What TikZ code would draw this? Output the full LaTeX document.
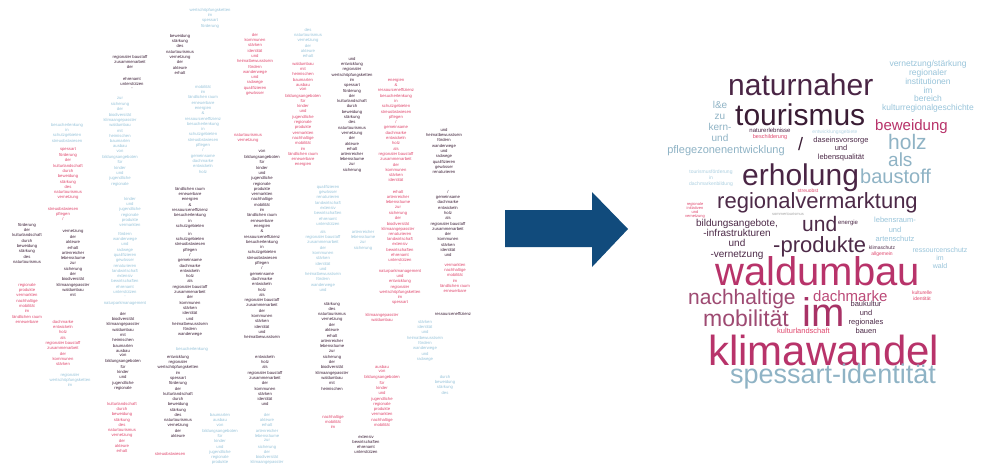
\documentclass[tikz,border=0pt]{standalone}
\usepackage{fontspec}
\setmainfont{Liberation Sans}
\usetikzlibrary{calc}

\definecolor{cdark}{HTML}{3D2038}
\definecolor{cpink}{HTML}{E0486E}
\definecolor{cblue}{HTML}{98C4DA}
\definecolor{wplum}{HTML}{4A2545}
\definecolor{wplumdk}{HTML}{3A1C34}
\definecolor{wplummid}{HTML}{4D2A48}
\definecolor{wcrim}{HTML}{B8336A}
\definecolor{wcrimdk}{HTML}{A83266}
\definecolor{wrose}{HTML}{9E4A72}
\definecolor{wrosel}{HTML}{BC4A78}
\definecolor{wsky}{HTML}{8FB3C5}
\definecolor{arrowblue}{HTML}{114B7C}

% size helper: font size and line distance in pt
\newcommand\wsz[2]{\fontsize{#1}{#2}\selectfont}

% vocabulary for the small left-hand cloud
\newcommand\poolword[1]{\ifcase#1 naturparkmanagement\or und\or entwicklung\or regionaler\or wertschöpfungsketten\or im\or spessart\or förderung\or der\or kulturlandschaft\or durch\or beweidung\or stärkung\or des\or naturtourismus\or vernetzung\or der\or akteure\or erhalt\or artenreicher\or lebensräume\or zur\or sicherung\or der\or biodiversität\or klimaangepasster\or waldumbau\or mit\or heimischen\or baumarten\or ausbau\or von\or bildungsangeboten\or für\or kinder\or und\or jugendliche\or regionale\or produkte\or vermarkten\or nachhaltige\or mobilität\or im\or ländlichen raum\or erneuerbare\or energien\or \&\or ressourceneffizienz\or besucherlenkung\or in\or schutzgebieten\or streuobstwiesen\or pflegen\or /\or gemeinsame\or dachmarke\or entwickeln\or holz\or als\or regionaler baustoff\or zusammenarbeit\or der\or kommunen\or stärken\or identität\or und\or heimatbewusstsein\or fördern\or wanderwege\or und\or radwege\or qualifizieren\or gewässer\or renaturieren\or landwirtschaft\or extensiv\or bewirtschaften\or ehrenamt\or unterstützen\or -\fi}

\tikzset{
  wtiny/.style={inner sep=0pt, anchor=north, font=\wsz{4.2}{5}},
  rw/.style={anchor=base west, inner sep=0pt},
  rs/.style={anchor=north, inner sep=0pt, align=center},
}

% one stacked column of tiny words: name, x, top y, colour, number of lines, start in vocabulary
\newcommand\wcol[6]{%
  \foreach \i in {1,...,#5}{%
    \pgfmathtruncatemacro\k{mod(#6+\i,80)}%
    \node[wtiny,text=#4] (#1-\i) at (#2,{#3+(\i-1)*5.3}) {\poolword{\k}};
  }}

\begin{document}
\begin{tikzpicture}[x=1pt,y=-1pt]
\fill[white] (0,0) rectangle (982,467);
\useasboundingbox (0,0) rectangle (982,467);

% ---------- left: full cloud of all statements ----------
\wcol{a1}{210}{8}{cblue}{4}{3}
\wcol{a2}{180}{34}{cdark}{8}{10}
\wcol{a3}{130}{55}{cdark}{3}{58}
\wcol{a4}{132}{77}{cdark}{3}{76}
\wcol{a5}{120}{97}{cblue}{17}{20}
\wcol{a6}{203}{85}{cblue}{17}{40}
\wcol{a7}{67}{123}{cblue}{4}{47}
\wcol{a8}{68}{148}{cpink}{10}{5}
\wcol{a9}{63}{207}{cpink}{3}{50}
\wcol{a10}{255}{33}{cpink}{12}{60}
\wcol{a11}{308}{28}{cblue}{6}{12}
\wcol{a12}{303}{62}{cpink}{20}{25}
\wcol{a13}{352}{57}{cdark}{22}{0}
\wcol{a14}{396}{78}{cpink}{20}{44}
\wcol{a15}{444}{128}{cdark}{9}{64}
\wcol{a16}{248}{133}{cpink}{2}{13}
\wcol{a17}{262}{150}{cdark}{36}{30}
\wcol{a18}{328}{185}{cblue}{8}{70}
\wcol{a19}{398}{190}{cpink}{8}{17}
\wcol{a20}{448}{190}{cdark}{13}{52}
\wcol{a21}{190}{187}{cdark}{8}{42}
\wcol{a22}{27}{223}{cdark}{8}{6}
\wcol{a23}{130}{197}{cblue}{6}{33}
\wcol{a24}{73}{230}{cdark}{13}{14}
\wcol{a25}{27}{283}{cpink}{8}{36}
\wcol{a26}{63}{320}{cpink}{9}{54}
\wcol{a27}{70}{373}{cblue}{3}{2}
\wcol{a28}{125}{232}{cblue}{14}{66}
\wcol{a29}{123}{312}{cdark}{15}{22}
\wcol{a30}{122}{402}{cpink}{10}{8}
\wcol{a31}{190}{232}{cdark}{20}{48}
\wcol{a32}{192}{347}{cblue}{1}{47}
\wcol{a33}{178}{355}{cdark}{16}{1}
\wcol{a34}{170}{452}{cpink}{1}{50}
\wcol{a35}{220}{413}{cblue}{10}{28}
\wcol{a36}{323}{230}{cblue}{12}{57}
\wcol{a37}{363}{230}{cblue}{4}{18}
\wcol{a38}{400}{232}{cpink}{14}{72}
\wcol{a39}{455}{263}{cpink}{6}{38}
\wcol{a40}{332}{302}{cdark}{17}{11}
\wcol{a41}{382}{313}{cpink}{2}{24}
\wcol{a42}{453}{312}{cdark}{1}{46}
\wcol{a43}{425}{320}{cblue}{8}{62}
\wcol{a44}{445}{375}{cblue}{4}{9}
\wcol{a45}{265}{355}{cdark}{10}{55}
\wcol{a46}{382}{365}{cpink}{12}{29}
\wcol{a47}{333}{415}{cpink}{3}{39}
\wcol{a48}{267}{413}{cblue}{10}{15}
\wcol{a49}{366}{435}{cdark}{4}{74}

% ---------- arrow ----------
\fill[arrowblue] (505,210) -- (592,210) -- (592,192) -- (628,229) -- (592,267)
  -- (592,247) -- (505,247) -- cycle;

% ---------- right: condensed cloud ----------
\node[rw,text=wplum,font=\wsz{30}{30}] (naturnaher) at (728,95) {naturnaher};
\node[rw,text=wplumdk,font=\wsz{30}{30}] (tourismus) at (735,125) {tourismus};
\node[rw,text=wplumdk,font=\wsz{18}{18}] (slash) at (798,150) {/};
\node[rw,text=wplum,font=\wsz{30}{30}] (erholung) at (742,185) {erholung};
\node[rw,text=wsky,font=\wsz{20}{20}] (baustoff) at (860,183) {baustoff};
\node[rw,text=wsky,font=\wsz{19}{19}] (als) at (888,166) {als};
\node[rw,text=wsky,font=\wsz{21}{21}] (holz) at (888,149) {holz};
\node[rw,text=wcrim,font=\wsz{15}{15}] (beweidung) at (875,130) {beweidung};
\node[rw,text=wplummid,font=\wsz{22}{22}] (regio) at (717,208) {regionalvermarktung};
\node[rw,text=wplummid,font=\wsz{21}{21}] (und) at (802,231) {und};
\node[rw,text=wplummid,font=\wsz{22}{22}] (produkte) at (773,252) {-produkte};
\node[rw,text=wcrim,font=\wsz{40}{40}] (waldumbau) at (715,285) {waldumbau};
\node[rw,text=wrose,font=\wsz{21}{21}] (nachhaltige) at (688,304) {nachhaltige};
\node[rw,text=wrosel,font=\wsz{15}{15}] (dachmarke) at (813,301) {dachmarke};
\node[rw,text=wcrimdk,font=\wsz{40}{40}] (im) at (802,326) {im};
\node[rw,text=wrose,font=\wsz{23}{23}] (mobilitaet) at (703,326) {mobilität};
\node[rw,text=wcrim,font=\wsz{42}{42}] (klimawandel) at (708,365) {klimawandel};
\node[rw,text=wsky,font=\wsz{27}{27}] (identitaet) at (730,383) {spessart-identität};

% small stacked terms
\node[rs,text=cblue,font=\wsz{8.5}{8.9}] (institutionen) at (928,60)
  {vernetzung/stärkung\\regionaler\\institutionen\\im\\bereich\\kulturregionalgeschichte};
\node[rs,text=wsky,font=\wsz{10}{11}] (kern) at (720,101) {l\&e\\zu\\kern-\\und};
\node[rs,text=wsky,font=\wsz{11}{11}] (pflege) at (726,145) {pflegezonenentwicklung};
\node[rs,text=wplum,font=\wsz{6}{6}] (erlebnis) at (770,128) {naturerlebnisse};
\node[rs,text=cpink,font=\wsz{5.5}{6}] (schild) at (770,134.5) {beschilderung};
\node[rs,text=cblue!70,font=\wsz{5}{6}] (gebiete) at (835,130) {entwicklungsgebiete};
\node[rs,text=wplummid,font=\wsz{7.5}{8.2}] (daseins) at (841,137) {daseinsvorsorge\\und\\lebensqualität};
\node[rs,text=cblue!80,font=\wsz{5}{6}] (foerder) at (711,170) {tourismusförderung\\in\\dachmarkenbildung};
\node[rs,text=cpink,font=\wsz{5}{5}] (streuobst) at (808,188.5) {streuobst};
\node[rs,text=cpink,font=\wsz{4}{4.2}] (initiativ) at (695,202) {regionale\\initiativen\\und\\vernetzung};
\node[rs,text=wplummid,font=\wsz{10}{10.2}] (bildung) at (737,219) {bildungsangebote,\\-infrastrukturen\\und\\-vernetzung};
\node[rs,text=gray!70,font=\wsz{4}{5}] (sommer) at (788,212) {sommertourismus};
\node[rs,text=wplummid,font=\wsz{6}{6}] (energie) at (848,220) {energie};
\node[rs,text=cblue,font=\wsz{7.5}{9.5}] (arten) at (895,217) {lebensraum-\\und\\artenschutz};
\node[rs,text=wplummid,font=\wsz{5}{5.5}] (klimaschutz) at (882,246) {klimaschutz};
\node[rs,text=cpink,font=\wsz{5}{5.5}] (allgemein) at (882,251.5) {allgemein};
\node[rs,text=cblue,font=\wsz{7}{8}] (ressourcen) at (940,247) {ressourcenschutz\\im\\wald};
\node[rs,text=cpink,font=\wsz{5}{5.5}] (kulturid) at (922,291) {kulturelle\\identität};
\node[rs,text=wplummid,font=\wsz{7.5}{8.9}] (baukultur) at (866,301) {baukultur\\und\\regionales\\bauen};
\node[rw,text=cpink,font=\wsz{7.5}{7.5}] (kulturland) at (777,333) {kulturlandschaft};
\end{tikzpicture}
\end{document}
